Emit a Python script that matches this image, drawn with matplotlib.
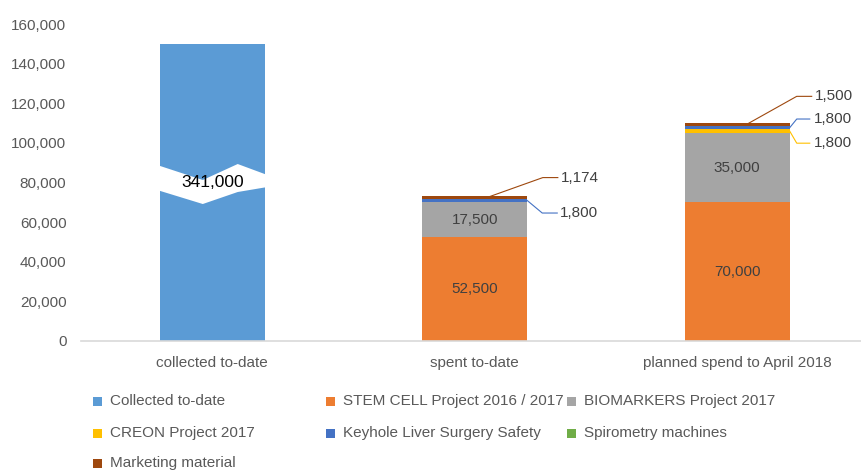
import matplotlib.pyplot as plt
from matplotlib.patches import Polygon, Rectangle
import numpy as np

plt.rcParams['font.family'] = ['Liberation Sans', 'DejaVu Sans']

categories = ['collected to-date', 'spent to-date', 'planned spend to April 2018']
collected = [341000, 0, 0]
stem_cell = [0, 52500, 70000]
biomarkers = [0, 17500, 35000]
creon = [0, 0, 1800]
keyhole = [0, 1800, 1800]
spirometry = [0, 0, 0]
marketing = [0, 1174, 1500]

series_names = ['Collected to-date', 'STEM CELL Project 2016 / 2017', 'BIOMARKERS Project 2017',
                'CREON Project 2017', 'Keyhole Liver Surgery Safety', 'Spirometry machines',
                'Marketing material']
colors = ['#5B9BD5', '#ED7D31', '#A5A5A5', '#FFC000', '#4472C4', '#70AD47', '#9E480E']

axis_cap = 150000  # collected bar is drawn broken at this height

fig = plt.figure(figsize=(8.61, 4.72), dpi=100)
ax = fig.add_axes([81/861, 1-341/472, 1-81/861, (341-24)/472])

x = np.arange(len(categories))
w = 0.4
series = [collected, stem_cell, biomarkers, creon, keyhole, spirometry, marketing]
bottom = np.zeros(len(categories))
bottoms = []
for k, (vals, c) in enumerate(zip(series, colors)):
    vals = np.array(vals, dtype=float)
    if k == 0:
        vals = np.minimum(vals, axis_cap)
    bottoms.append(bottom.copy())
    ax.bar(x, vals, w, bottom=bottom, color=c, linewidth=0, zorder=2)
    bottom = bottom + vals

# break in the collected bar
top_edge = [(-0.21, 88830), (-0.036, 81260), (0.097, 89330), (0.21, 83780)]
bot_edge = [(-0.21, 76210), (-0.036, 69140), (0.097, 75200), (0.21, 77720)]
ax.add_patch(Polygon(top_edge + bot_edge[::-1], closed=True, facecolor='white',
                     edgecolor='none', zorder=3))
ax.text(0, 80000, f'{collected[0]:,}', ha='center', va='center', fontsize=12.5,
        color='black', zorder=4)

# labels inside bars
for vals, b in [(stem_cell, bottoms[1]), (biomarkers, bottoms[2])]:
    for i in (1, 2):
        ax.text(x[i], b[i] + vals[i] / 2, f'{vals[i]:,}', ha='center', va='center',
                fontsize=11, color='#404040', zorder=4)

# callouts
xpp = 1 / 262.5
ypp = 160000 / 317


def callout(x0, y0, pts, tx, label, color):
    xs = [x0] + [x0 + dx * xpp for dx, dy in pts]
    ys = [y0] + [y0 + dy * ypp for dx, dy in pts]
    ax.plot(xs, ys, color=color, lw=0.8, zorder=4, clip_on=False)
    ax.text(x0 + tx * xpp, ys[-1], label, ha='left', va='center', fontsize=11,
            color='#404040', clip_on=False)


b2 = bottoms
callout(1 + 0.046, b2[6][1] + marketing[1] / 2, [(56, 20), (71, 20)], 74,
        f'{marketing[1]:,}', colors[6])
callout(1 + w / 2, b2[4][1] + keyhole[1] / 2, [(15, -12.5), (30, -12.5)], 33,
        f'{keyhole[1]:,}', colors[4])
callout(2 + 0.036, b2[6][2] + marketing[2] / 2, [(50, 28), (65, 28)], 68,
        f'{marketing[2]:,}', colors[6])
callout(2 + w / 2, b2[4][2] + keyhole[2] / 2, [(7, 8.6), (20, 8.6)], 24,
        f'{keyhole[2]:,}', colors[4])
callout(2 + w / 2, b2[3][2] + creon[2] / 2, [(7, -12), (20, -12)], 24,
        f'{creon[2]:,}', colors[3])

ax.set_xlim(-0.5, -0.5 + 780 / 262.5)
ax.set_ylim(0, 160000)
ax.set_yticks(np.arange(0, 160001, 20000))
ax.set_yticklabels([f'{v:,}' for v in range(0, 160001, 20000)])
ax.set_xticks(x)
ax.set_xticklabels(categories)
ax.tick_params(axis='y', length=0, pad=10.5, labelsize=11, labelcolor='#595959')
ax.tick_params(axis='x', length=0, pad=11, labelsize=11, labelcolor='#595959')
for s in ['top', 'right', 'left']:
    ax.spines[s].set_visible(False)
ax.spines['bottom'].set_color('#D9D9D9')
ax.spines['bottom'].set_linewidth(1.2)

# legend, laid out like the spreadsheet one
col_x = [97, 330, 571]
row_y = [401, 433, 463]
for k, (name, c) in enumerate(zip(series_names, colors)):
    r, cidx = divmod(k, 3)
    px, py = col_x[cidx], row_y[r]
    fig.patches.append(Rectangle(((px - 4.5) / 861, 1 - (py + 4.5) / 472), 9 / 861, 9 / 472,
                                 transform=fig.transFigure, facecolor=c, edgecolor='none'))
    fig.text((px + 13) / 861, 1 - py / 472, name, ha='left', va='center', fontsize=11,
             color='#595959')

fig.savefig('out.png', dpi=100)
